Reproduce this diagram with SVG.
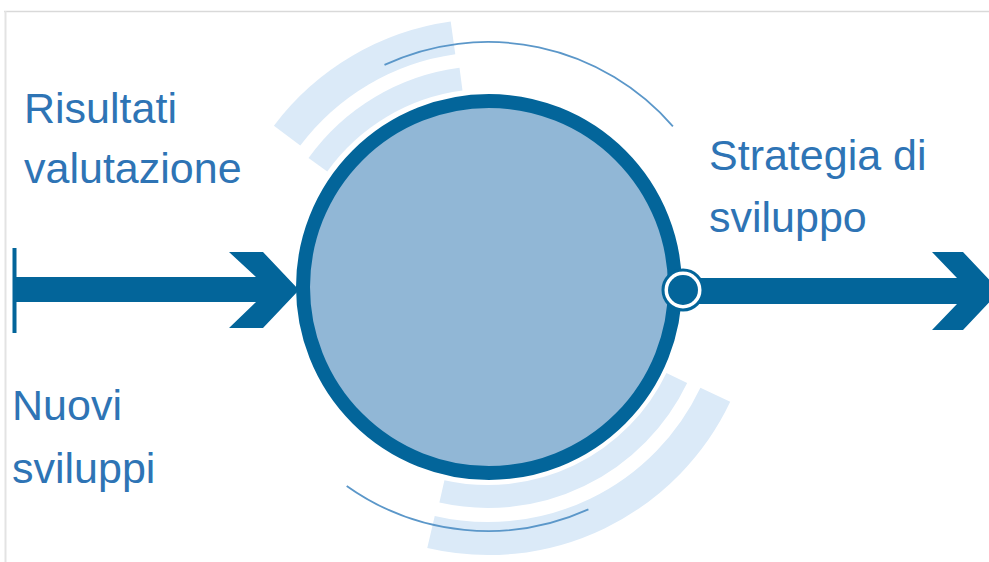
<svg xmlns="http://www.w3.org/2000/svg" width="989" height="562" viewBox="0 0 989 562">
<style>
.band{fill:none;stroke:#dbeaf8;}
.thin{fill:none;stroke:#5b97c9;stroke-width:1.8;}
.dark{fill:#03659a;}
.lbl{font-family:"Liberation Sans",Arial,sans-serif;font-size:43px;fill:#2e74b5;}
</style>
<rect width="989" height="562" fill="#ffffff"/>
<g id="frame">
<line x1="4" y1="11.5" x2="989" y2="11.5" stroke="#d9d9d9" stroke-width="1.5"/>
<line x1="5.5" y1="11" x2="5.5" y2="562" stroke="#e3e3e3" stroke-width="2"/>
</g>
<g id="decor">
<path class="band" stroke-width="33" d="M287.1,135.6 A251.5,251.5 0 0 1 453,37.9"/>
<path class="band" stroke-width="23" d="M317.9,164.8 A209.5,209.5 0 0 1 461,79.2"/>
<path class="band" stroke-width="23" d="M676.8,377.9 A209.5,209.5 0 0 1 441.9,491.4"/>
<path class="band" stroke-width="33" d="M715.3,394.7 A251.5,251.5 0 0 1 431,532"/>
<path class="thin" d="M384.5,64.9 A245,245 0 0 1 672.9,126.3"/>
<path class="thin" d="M588.4,509.4 A244,244 0 0 1 346.7,485.9"/>
</g>
<g id="connectors">
<g id="arrow-in">
<rect class="dark" x="12.5" y="248" width="4" height="85"/>
<polygon class="dark" points="14,277 256,277 229,252 263,252 299,290 263,328 229,328 256,302 14,302"/>
</g>
<g id="arrow-out">
<polygon class="dark" points="690,278 957,278 932,252 963,252 1000,291 963,330 932,330 957,304 690,304"/>
</g>
</g>
<g id="hub">
<circle cx="489" cy="287" r="186" fill="#91b7d6" stroke="#03659a" stroke-width="14"/>
</g>
<g id="port">
<circle cx="683" cy="290" r="20" fill="#ffffff" stroke="#03659a" stroke-width="3"/>
<circle cx="683" cy="290" r="15" fill="#03659a"/>
</g>
<g id="label-risultati">
<text class="lbl" x="24" y="123">Risultati</text>
<text class="lbl" x="24" y="183">valutazione</text>
</g>
<g id="label-nuovi">
<text class="lbl" x="12" y="420">Nuovi</text>
<text class="lbl" x="12" y="483">sviluppi</text>
</g>
<g id="label-strategia">
<text class="lbl" x="709" y="170">Strategia di</text>
<text class="lbl" x="709" y="232">sviluppo</text>
</g>
</svg>
